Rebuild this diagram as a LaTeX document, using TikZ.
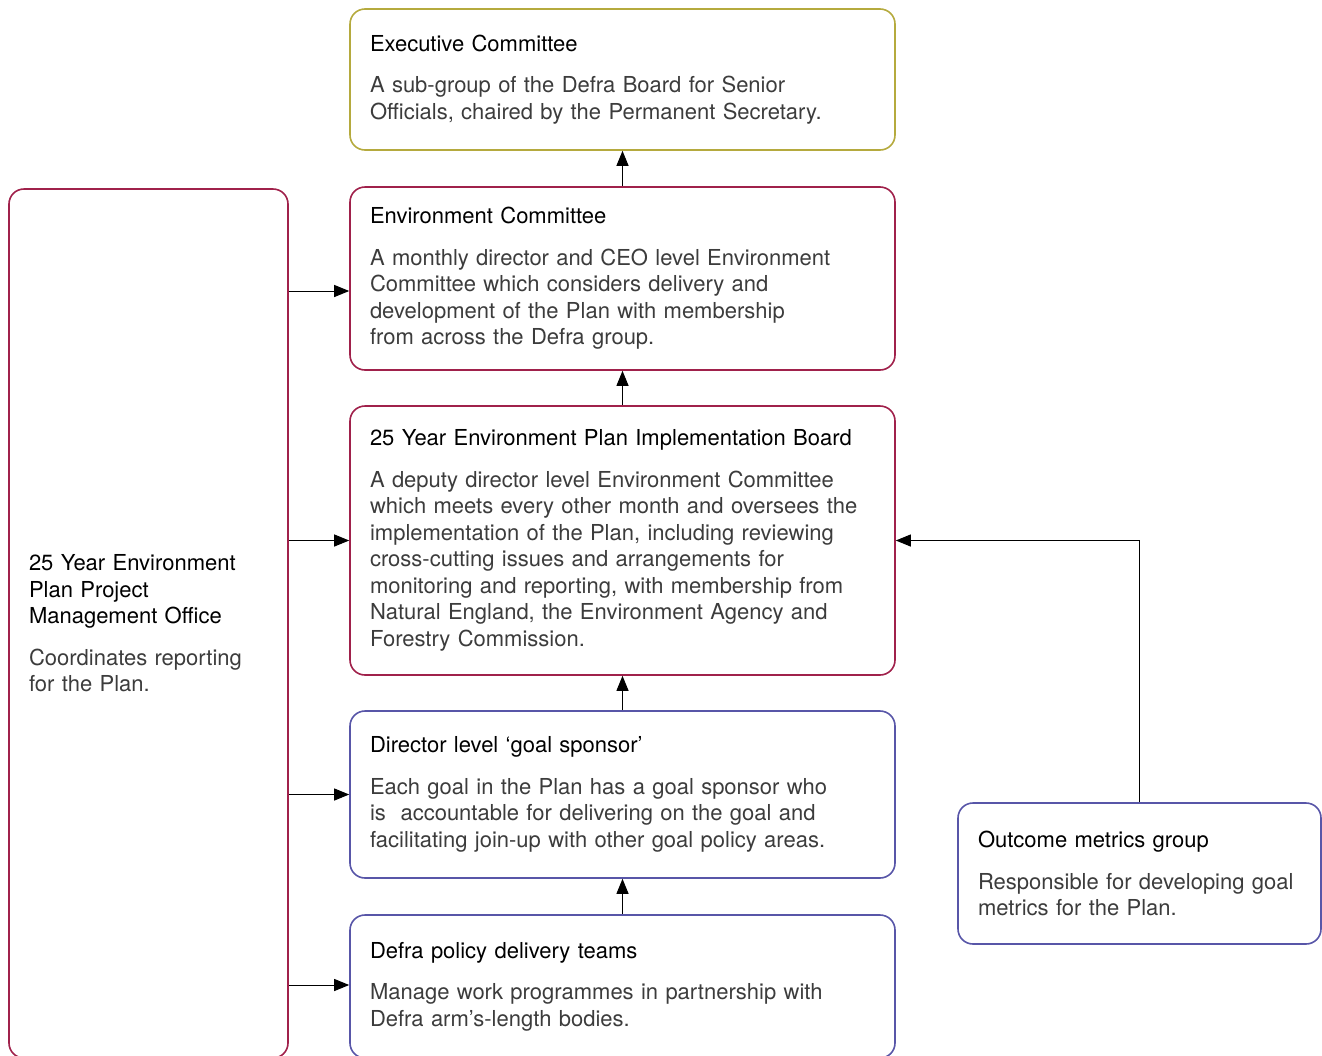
\documentclass[tikz,border=0pt]{standalone}
\usepackage{fontspec}
\setmainfont{TeX Gyre Heros}
\usetikzlibrary{arrows.meta,positioning}

\definecolor{olivebrd}{RGB}{181,170,62}
\definecolor{crimsonbrd}{RGB}{160,33,75}
\definecolor{indigobrd}{RGB}{88,86,168}
\definecolor{bodygrey}{RGB}{60,60,60}

\newcommand{\boxtitle}[1]{{\color{black}#1}\\[7.5pt]}

\begin{document}
\begin{tikzpicture}
	% Styles
	[
	x=0.5pt, y=-0.5pt,
	every node/.style={font=\fontsize{11}{13.25}\selectfont\color{bodygrey}},
	box/.style={rectangle, rounded corners=7.5pt, line width=0.8pt, align=left, inner xsep=10pt, inner ysep=0pt, minimum width=272.5pt, text width=252.5pt},
	exe/.style={box, draw=olivebrd},
	env/.style={box, draw=crimsonbrd},
	ops/.style={box, draw=indigobrd},
	arr/.style={-{Triangle[length=7.5pt,width=6pt]}, line width=0.5pt, black}
	]
	\useasboundingbox (0,0) rectangle (1322,1055);

	% Nodes
	\node at (622.5,79.5)	(exec)	[exe, minimum height=70.5pt] {\boxtitle{Executive Committee}A sub-group of the Defra Board for Senior\\Officials, chaired by the Permanent Secretary.};
	\node at (622.5,278.5)	(envc)	[env, minimum height=91.5pt] {\boxtitle{Environment Committee}A monthly director and CEO level Environment\\Committee which considers delivery and\\development of the Plan with membership\\from across the Defra group.};
	\node at (622.5,540.5)	(board)	[env, minimum height=134.5pt] {\boxtitle{25 Year Environment Plan Implementation Board}A deputy director level Environment Committee\\which meets every other month and oversees the\\implementation of the Plan, including reviewing\\cross-cutting issues and arrangements for\\monitoring and reporting, with membership from\\Natural England, the Environment Agency and\\Forestry Commission.};
	\node at (622.5,794.5)	(sponsor)	[ops, minimum height=83.5pt] {\boxtitle{Director level ‘goal sponsor’}Each goal in the Plan has a goal sponsor who\\is\ \ accountable for delivering on the goal and\\facilitating join-up with other goal policy areas.};
	\node at (622.5,986.5)	(teams)	[ops, minimum height=71.5pt] {\boxtitle{Defra policy delivery teams}Manage work programmes in partnership with\\Defra arm’s-length bodies.};
	\node at (148.5,623.5)	(pmo)	[env, minimum width=139.5pt, text width=119.5pt, minimum height=434.5pt] {{\color{black}25 Year Environment\\Plan Project\\Management Office}\\[7.5pt]Coordinates reporting\\for the Plan.};
	\node at (1139.5,873.5)	(metrics)	[ops, minimum width=181.5pt, text width=161.5pt, minimum height=70.5pt] {\boxtitle{Outcome metrics group}Responsible for developing goal\\metrics for the Plan.};

	% Connections
	\draw[arr] (envc) -- (exec);
	\draw[arr] (board) -- (envc);
	\draw[arr] (sponsor) -- (board);
	\draw[arr] (teams) -- (sponsor);
	\draw[arr] (pmo.east |- 0,291) -- (envc.west |- 0,291);
	\draw[arr] (pmo.east |- board.west) -- (board.west);
	\draw[arr] (pmo.east |- sponsor.west) -- (sponsor.west);
	\draw[arr] (pmo.east |- 0,985) -- (teams.west |- 0,985);
	\draw[arr] (metrics.north) |- (board.east);

\end{tikzpicture}
\end{document}
